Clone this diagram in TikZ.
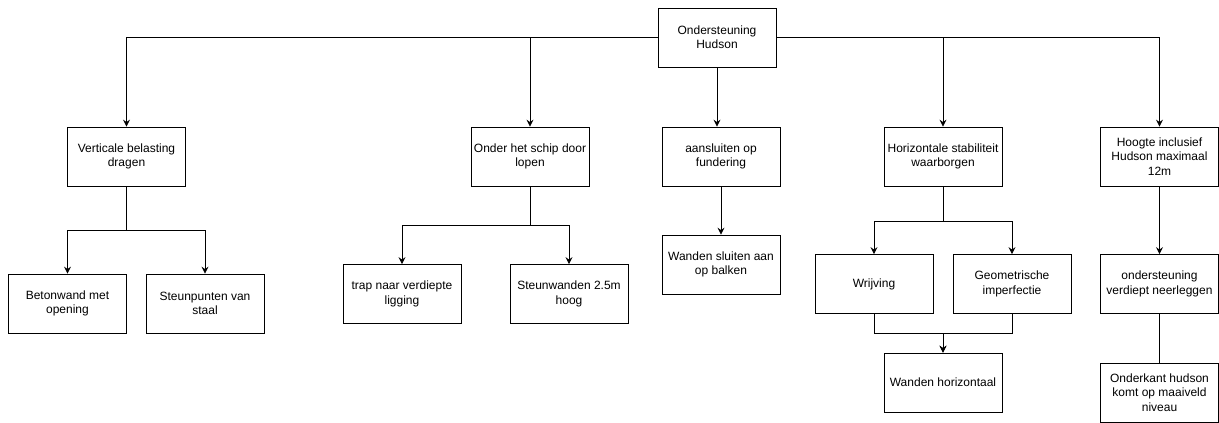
\documentclass[tikz,border=0pt]{standalone}
\usepackage{fontspec}
\setmainfont{Liberation Sans}
\usetikzlibrary{arrows.meta}
\begin{document}
\begin{tikzpicture}[x=1pt,y=-1pt,line width=0.8pt,
    box/.style={draw,minimum width=118pt,minimum height=59pt,inner sep=1pt,align=center,font=\fontsize{12}{14.4}\selectfont},
    arr/.style={-{Stealth[length=7pt,width=7pt,inset=2.5pt]}}]
        \useasboundingbox (0,0) rectangle (1219,423);
        \node[box] (A) at (717,37.5) {Ondersteuning\\Hudson};
        \node[box] (B) at (126.5,156.5) {Verticale belasting\\dragen};
        \node[box] (C) at (530,156.5) {Onder het schip door\\lopen};
        \node[box] (D) at (721,156.5) {aansluiten op\\fundering};
        \node[box] (E) at (943,156.5) {Horizontale stabiliteit\\waarborgen};
        \node[box] (F) at (1159.5,156.5) {Hoogte inclusief\\Hudson maximaal\\12m};
        \node[box] (G) at (67.5,303.5) {Betonwand met\\opening};
        \node[box] (H) at (205,303.5) {Steunpunten van\\staal};
        \node[box] (I) at (402,294) {trap naar verdiepte\\ligging};
        \node[box] (J) at (569,294) {Steunwanden 2.5m\\hoog};
        \node[box] (K) at (721,264.5) {Wanden sluiten aan\\op balken};
        \node[box] (L) at (874,284) {Wrijving};
        \node[box] (M) at (1012,284) {Geometrische\\imperfectie};
        \node[box] (N) at (943,382.5) {Wanden horizontaal};
        \node[box] (O) at (1159.5,284) {ondersteuning\\verdiept neerleggen};
        \node[box] (P) at (1159.5,392.5) {Onderkant hudson\\komt op maaiveld\\niveau};
        \coordinate (B1) at (126.5,230);
        \coordinate (C1) at (530,225);
        \coordinate (E1) at (943,221);
        \coordinate (N1) at (943,333);
        \draw[arr] (A.west) -| (B);
        \draw[arr] (A.west) -| (C);
        \draw[arr] (A) -- (A |- D.north);
        \draw[arr] (A.east) -| (E);
        \draw[arr] (A.east) -| (F);
        \draw[arr] (B) -- (B1) -| (G);
        \draw[arr] (B) -- (B1) -| (H);
        \draw[arr] (C) -- (C1) -| (I);
        \draw[arr] (C) -- (C1) -| (J);
        \draw[arr] (D) -- (K);
        \draw[arr] (E) -- (E1) -| (L);
        \draw[arr] (E) -- (E1) -| (M);
        \draw[arr] (L) |- (N1) -- (N);
        \draw[arr] (M) |- (N1) -- (N);
        \draw[arr] (F) -- (O);
        \draw (O) -- (P);
    \end{tikzpicture}
\end{document}
